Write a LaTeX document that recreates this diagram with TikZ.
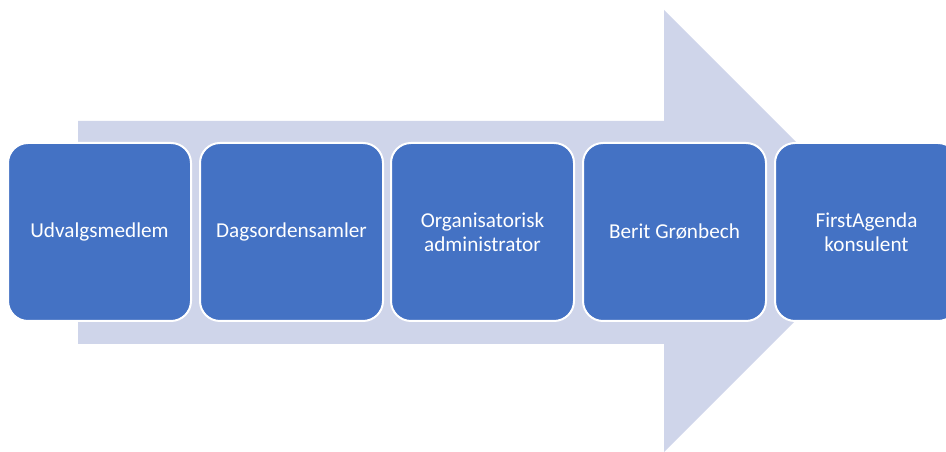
\documentclass[tikz,border=0pt]{standalone}
\usepackage{fontspec}
\setmainfont{Carlito}
\definecolor{boxblue}{HTML}{4472C4}
\definecolor{arrowgrey}{HTML}{CFD5EA}

\tikzset{
  rolebox/.style={
    rectangle, rounded corners=20pt, fill=boxblue, draw=white, line width=2pt,
    minimum width=183pt, minimum height=178pt, text=white, align=center,
    font=\fontsize{21.2}{24}\selectfont
  }
}

\begin{document}
\begin{tikzpicture}[x=1pt, y=1pt]
  \useasboundingbox (0,0) rectangle (946,452);
  % big arrow behind the boxes
  \fill[arrowgrey] (78,108) -- (664,108) -- (664,0) -- (885,221) -- (664,442)
    -- (664,331) -- (78,331) -- cycle;
  \node[rolebox] (udvalg) at (99.5,220) {Udvalgsmedlem};
  \node[rolebox] (dagsorden) at (291.5,220) {Dagsordensamler};
  \node[rolebox] (orgadmin) at (482.5,220) {Organisatorisk\\administrator};
  \node[rolebox] (berit) at (674.5,220) {Berit Grønbech};
  \node[rolebox] (firstagenda) at (866.5,220) {FirstAgenda\\konsulent};
\end{tikzpicture}
\end{document}
